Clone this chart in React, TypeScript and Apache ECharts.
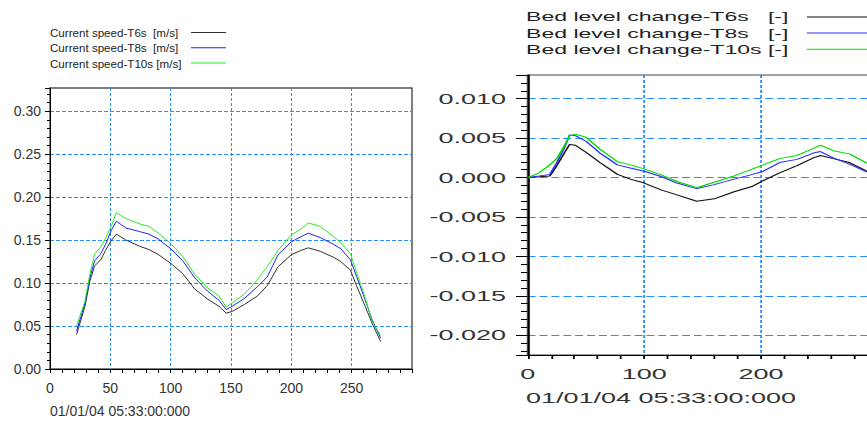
import React, { useEffect, useRef } from "react";
import * as echarts from "echarts";

// ---------- data: left chart (current speed) ----------
const speedTime = [22, 29, 33, 37, 42, 46, 51, 55, 63, 74, 82, 90, 100, 110, 120, 131, 140, 146, 151, 161, 172, 180, 189, 200, 208, 214, 224, 235, 241, 249, 254, 260, 267, 274];
const speedT6 = [0.040, 0.073, 0.102, 0.120, 0.127, 0.138, 0.150, 0.157, 0.150, 0.143, 0.139, 0.133, 0.123, 0.111, 0.093, 0.081, 0.073, 0.065, 0.067, 0.075, 0.085, 0.097, 0.119, 0.133, 0.138, 0.141, 0.137, 0.130, 0.125, 0.115, 0.097, 0.077, 0.053, 0.032];
const speedT8 = [0.044, 0.077, 0.106, 0.126, 0.134, 0.145, 0.162, 0.172, 0.164, 0.160, 0.157, 0.151, 0.140, 0.126, 0.106, 0.090, 0.080, 0.069, 0.073, 0.082, 0.096, 0.107, 0.133, 0.148, 0.154, 0.158, 0.153, 0.145, 0.140, 0.127, 0.108, 0.085, 0.057, 0.036];
const speedT10 = [0.050, 0.079, 0.110, 0.134, 0.142, 0.152, 0.167, 0.182, 0.175, 0.169, 0.166, 0.158, 0.146, 0.131, 0.110, 0.094, 0.085, 0.072, 0.077, 0.087, 0.104, 0.119, 0.138, 0.156, 0.163, 0.170, 0.166, 0.154, 0.147, 0.134, 0.113, 0.088, 0.055, 0.039];
const speedNames = ["Current speed-T6s  [m/s]", "Current speed-T8s  [m/s]", "Current speed-T10s [m/s]"];

// ---------- data: right chart (bed level change) ----------
const bedTime = [0, 10, 19, 25, 31, 36, 41, 50, 62, 77, 88, 100, 115, 128, 145, 160, 177, 193, 202, 216, 231, 245, 251, 262, 276, 291];
const bedT6 = [0, 0.0001, 0.0002, 0.0015, 0.0030, 0.0042, 0.0041, 0.0032, 0.0019, 0.0004, -0.0002, -0.0007, -0.0016, -0.0022, -0.0030, -0.0027, -0.0018, -0.0011, -0.0004, 0.0006, 0.0015, 0.0025, 0.0028, 0.0024, 0.0019, 0.0008];
const bedT8 = [0, 0.0002, 0.0004, 0.0019, 0.0036, 0.0054, 0.0053, 0.0046, 0.0031, 0.0016, 0.0012, 0.0008, 0.0001, -0.0007, -0.0014, -0.0009, -0.0002, 0.0004, 0.0008, 0.0019, 0.0023, 0.0031, 0.0033, 0.0025, 0.0017, 0.0007];
const bedT10 = [0, 0.0006, 0.0016, 0.0024, 0.0039, 0.0053, 0.0055, 0.0051, 0.0036, 0.0020, 0.0016, 0.0011, 0.0003, -0.0005, -0.0013, -0.0006, 0.0002, 0.0011, 0.0016, 0.0024, 0.0028, 0.0037, 0.0041, 0.0034, 0.0030, 0.0018];
const bedNames = ["Bed level change-T6s   [-]", "Bed level change-T8s   [-]", "Bed level change-T10s [-]"];

const timeLabel = "01/01/04 05:33:00:000";

const FONT = "'Liberation Sans', Arial, sans-serif";
const GRID_BLUE = "#2b8cff";
const leftColors = ["#303030", "#2020ff", "#22ee22"];
const rightColors = ["#111111", "#3030ff", "#00dd00"];

const pairs = (xs: number[], ys: number[]) => xs.map((x, i) => [x, ys[i]]);

function lineSeries(name: string, color: string, data: number[][]) {
  return {
    name,
    type: "line",
    data,
    symbol: "none",
    smooth: false,
    lineStyle: { color, width: 1 },
    itemStyle: { color },
    emphasis: { disabled: true },
  };
}

function legendOf(names: string[], left: number, top: number, itemWidth: number, gap: number, fontSize: number, textWidth: number) {
  return {
    orient: "vertical",
    left,
    top,
    padding: 0,
    align: "right",
    icon: "rect",
    itemWidth,
    itemHeight: 1,
    itemGap: gap,
    selectedMode: false,
    data: names,
    formatter: (n: string) => `{n|${n}}`,
    textStyle: {
      fontFamily: FONT,
      fontSize,
      lineHeight: 10,
      color: "#222",
      rich: { n: { width: textWidth, height: 10, lineHeight: 10, align: "left", fontFamily: FONT, fontSize, color: "#222" } },
    },
  };
}

function leftOption() {
  return {
    animation: false,
    legend: legendOf(speedNames, 50, 26.6, 35, 3.2, 11.6, 136),
    title: {
      text: timeLabel,
      left: 50,
      top: 404,
      padding: 0,
      textStyle: { fontFamily: FONT, fontSize: 14, fontWeight: "normal", color: "#333" },
    },
    grid: {
      left: 50,
      top: 88,
      width: 362,
      height: 281,
      show: true,
      borderColor: "#555",
      borderWidth: 1.5,
      backgroundColor: "transparent",
    },
    xAxis: {
      type: "value",
      min: 0,
      max: 300,
      interval: 50,
      axisLine: { onZero: false, lineStyle: { color: "#000", width: 1 } },
      axisTick: { length: 4, lineStyle: { color: "#000" } },
      minorTick: { show: true, splitNumber: 5, length: 4, lineStyle: { color: "#000" } },
      axisLabel: { margin: 12, fontFamily: FONT, fontSize: 14, color: "#333", showMaxLabel: false },
      splitLine: { show: true, showMinLine: false, showMaxLine: false, lineStyle: { color: GRID_BLUE, type: [3, 2], width: 1 } },
    },
    yAxis: {
      type: "value",
      min: 0,
      max: 0.327,
      splitNumber: 7,
      axisLine: { show: true, onZero: false, lineStyle: { color: "#000", width: 1 } },
      axisTick: { show: true, length: 5, lineStyle: { color: "#000" } },
      minorTick: { show: true, splitNumber: 5, length: 3, lineStyle: { color: "#000" } },
      axisLabel: {
        margin: 9,
        fontFamily: FONT,
        fontSize: 14,
        color: "#333",
        showMaxLabel: false,
        formatter: (v: number) => (Math.abs(v) < 1e-9 ? 0 : v).toFixed(2),
      },
      splitLine: { show: true, showMinLine: false, showMaxLine: false, lineStyle: { color: GRID_BLUE, type: [4, 2], width: 1 } },
    },
    series: [
      lineSeries(speedNames[0], leftColors[0], pairs(speedTime, speedT6)),
      lineSeries(speedNames[1], leftColors[1], pairs(speedTime, speedT8)),
      lineSeries(speedNames[2], leftColors[2], pairs(speedTime, speedT10)),
    ],
  };
}

function rightOption() {
  return {
    animation: false,
    legend: legendOf(bedNames, 58.9, 10.4, 40, 3.2, 12.8, 151),
    title: {
      text: timeLabel,
      left: 58.9,
      top: 390.5,
      padding: 0,
      textStyle: { fontFamily: FONT, fontSize: 15, fontWeight: "normal", color: "#333" },
    },
    grid: {
      left: 59.8,
      top: 75,
      width: 194.4,
      height: 280,
      show: true,
      borderColor: "#444",
      borderWidth: 1,
      backgroundColor: "transparent",
    },
    xAxis: {
      type: "value",
      min: 0,
      max: 300,
      interval: 100,
      axisLine: { onZero: false, lineStyle: { color: "#000", width: 1 } },
      axisTick: { length: 4, lineStyle: { color: "#000" } },
      minorTick: { show: true, splitNumber: 5, length: 4, lineStyle: { color: "#000" } },
      axisLabel: { margin: 11, fontFamily: FONT, fontSize: 15, color: "#333", showMaxLabel: false },
      splitLine: { show: true, showMinLine: false, showMaxLine: false, lineStyle: { color: GRID_BLUE, type: [3, 2], width: 1 } },
    },
    yAxis: {
      type: "value",
      min: -0.0225,
      max: 0.013,
      splitNumber: 7,
      axisLine: { show: true, onZero: false, lineStyle: { color: "#000", width: 1 } },
      axisTick: { show: true, length: 6.5, lineStyle: { color: "#000" } },
      minorTick: { show: true, splitNumber: 5, length: 3.7, lineStyle: { color: "#000" } },
      axisLabel: {
        margin: 12,
        fontFamily: FONT,
        fontSize: 15,
        color: "#333",
        showMinLabel: false,
        showMaxLabel: false,
        formatter: (v: number) => (Math.abs(v) < 1e-9 ? 0 : v).toFixed(3),
      },
      splitLine: { show: true, showMinLine: false, showMaxLine: false, lineStyle: { color: GRID_BLUE, type: [4.4, 2.2], width: 1 } },
    },
    series: [
      lineSeries(bedNames[0], rightColors[0], pairs(bedTime, bedT6)),
      lineSeries(bedNames[1], rightColors[1], pairs(bedTime, bedT8)),
      lineSeries(bedNames[2], rightColors[2], pairs(bedTime, bedT10)),
    ],
  };
}

export default function App() {
  const leftRef = useRef<HTMLDivElement>(null);
  const rightRef = useRef<HTMLDivElement>(null);

  useEffect(() => {
    const l = echarts.init(leftRef.current!, null, { renderer: "svg" });
    const r = echarts.init(rightRef.current!, null, { renderer: "svg" });
    l.setOption(leftOption() as any);
    r.setOption(rightOption() as any);
    return () => {
      l.dispose();
      r.dispose();
    };
  }, []);

  return (
    <div style={{ position: "fixed", left: 0, top: 0, width: 867, height: 422, overflow: "hidden", background: "#fff" }}>
      <div ref={leftRef} style={{ position: "absolute", left: 0, top: 0, width: 430, height: 422 }} />
      <div
        ref={rightRef}
        style={{
          position: "absolute",
          left: 420,
          top: 0,
          width: 270,
          height: 422,
          transform: "scaleX(1.8)",
          transformOrigin: "0 0",
        }}
      />
    </div>
  );
}
